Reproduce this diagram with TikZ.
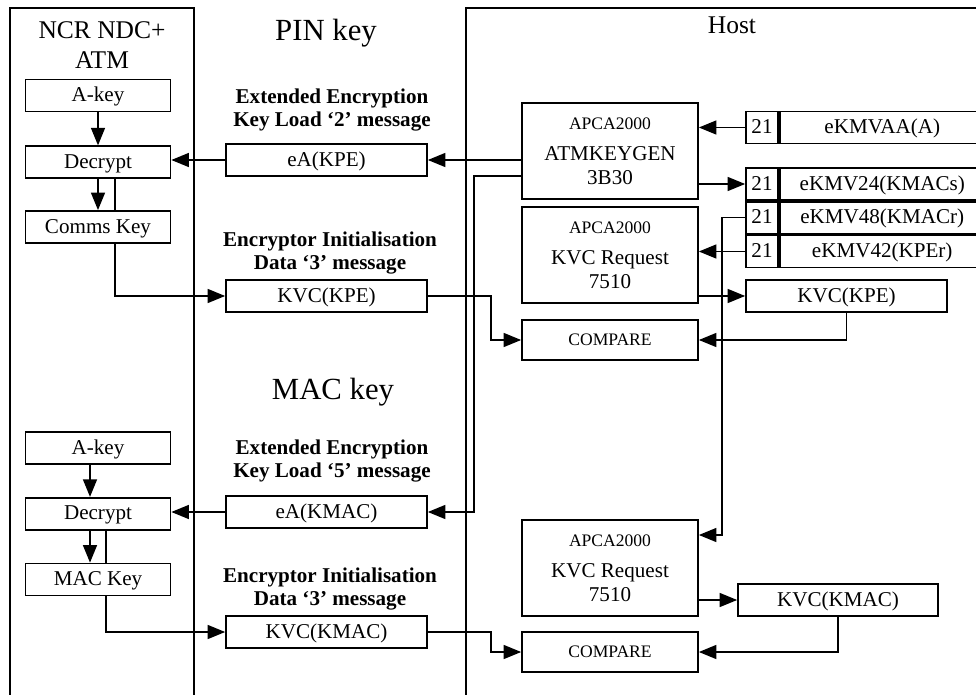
\documentclass[tikz,border=0pt]{standalone}
\usepackage{fontspec}
\setmainfont{Liberation Serif}
\usetikzlibrary{arrows.meta,positioning}

\begin{document}
\begin{tikzpicture}[x=0.02cm,y=-0.02cm,
  box/.style={draw,line width=1pt,minimum height=0.64cm,inner sep=0pt,
    font=\fontsize{12}{13.6}\selectfont},
  onebox/.style={box,text height=8.5pt,text depth=1.5pt},
  atmbox/.style={onebox,minimum width=2.9cm},
  msgbox/.style={onebox,minimum width=4.02cm},
  hsm/.style={box,minimum width=3.52cm,minimum height=1.93cm,align=center},
  cmpbox/.style={box,minimum width=3.52cm,minimum height=0.8cm,
    font=\fontsize{10}{12}\selectfont,text height=7pt,text depth=1pt},
  numcell/.style={onebox,minimum width=0.64cm},
  keycell/.style={onebox,minimum width=4.1cm},
  msg/.style={align=center,font=\fontsize{12}{13.6}\selectfont\bfseries},
  title/.style={align=center,font=\fontsize{14.5}{17}\selectfont},
  sect/.style={font=\fontsize{17.5}{20}\selectfont},
  arr/.style={-{Triangle[length=10pt,width=8pt]},line width=0.8pt},
  wire/.style={line width=0.8pt}]

\clip (0,0) rectangle (976,695);

% the two sides
\draw[line width=0.9pt] (10,8) rectangle (194,720);
\draw[line width=0.9pt] (466,8) rectangle (1000,720);

\node[title] (atm)  at (102,45) {NCR NDC+\\ATM};
\node[title] (host) at (732,25) {Host};
\node[sect]  (pin)  at (326,33) {PIN key};
\node[sect]  (mac)  at (333,392) {MAC key};

% ATM, PIN key
\node[atmbox] (akey1) at (98,95.5) {A-key};
\node[atmbox] (dec1) [below=0.66cm of akey1] {Decrypt};
\node[atmbox] (comms) [below=0.62cm of dec1] {Comms Key};

% ATM, MAC key
\node[atmbox] (akey2) at (98,448) {A-key};
\node[atmbox] (dec2) [below=0.64cm of akey2] {Decrypt};
\node[atmbox] (mackey) [below=0.64cm of dec2] {MAC Key};

% messages
\node[msg] (msg1) at (332,110) {Extended Encryption\\Key Load ‘2’ message};
\node[msgbox] (eakpe) at (326.5,160) {eA(KPE)};
\node[msg] (msg2) at (330,253) {Encryptor Initialisation\\Data ‘3’ message};
\node[msgbox] (kvc1) at (326.5,296) {KVC(KPE)};
\node[msg] (msg3) at (332,461) {Extended Encryption\\Key Load ‘5’ message};
\node[msgbox] (eakmac) at (326.5,512) {eA(KMAC)};
\node[msg] (msg4) at (330,589) {Encryptor Initialisation\\Data ‘3’ message};
\node[msgbox] (kvc2) at (326.5,632) {KVC(KMAC)};

% host functions
\node[hsm] (gen) at (610,151) {{\fontsize{10}{12}\selectfont APCA2000}\\[4pt]ATMKEYGEN\\3B30};
\node[hsm] (req1) at (610,255) {{\fontsize{10}{12}\selectfont APCA2000}\\[4pt]KVC Request\\7510};
\node[cmpbox] (cmp1) at (610,340) {COMPARE};
\node[hsm] (req2) at (610,568) {{\fontsize{10}{12}\selectfont APCA2000}\\[4pt]KVC Request\\7510};
\node[cmpbox] (cmp2) at (610,652) {COMPARE};

% key database
\node[numcell] (n21a) at (762,127.5) {21};
\node[keycell] (kmvaa) [right=0pt of n21a] {eKMVAA(A)};
\node[numcell] (n21b) at (762,184) {21};
\node[keycell] (kmv24) [right=0pt of n21b] {eKMV24(KMACs)};
\node[numcell] (n21c) [below=0pt of n21b] {21};
\node[keycell] (kmv48) [right=0pt of n21c] {eKMV48(KMACr)};
\node[numcell] (n21d) [below=0pt of n21c] {21};
\node[keycell] (kmv42) [right=0pt of n21d] {eKMV42(KPEr)};

\node[msgbox] (kvcr1) at (846.5,296) {KVC(KPE)};
\node[msgbox,minimum width=4cm] (kvcr2) at (838,600) {KVC(KMAC)};

% PIN key flow
\draw[arr] (akey1) -- (dec1);
\draw[arr] (dec1) -- (comms);
\draw[wire] ([xshift=0.34cm]dec1.south) -- ([xshift=0.34cm]comms.north);
\draw[arr] ([xshift=0.34cm]comms.south) |- (kvc1.west);
\draw[arr] (eakpe.west) -- (eakpe.west -| dec1.east);
\draw[arr] (gen.west |- eakpe.east) -- (eakpe.east);
\draw[arr] ([yshift=-0.5cm]gen.west) -- ++(-0.94cm,0) |- (eakmac.east);
\draw[arr] (kvc1.east) -- ++(1.26cm,0) |- (cmp1.west);
\draw[arr] (n21a.west) -- (n21a.west -| gen.east);
\draw[arr] (gen.east |- n21b.west) -- (n21b.west);
\draw[arr] (n21c.west) -- ++(-0.46cm,0) |- ([yshift=0.66cm]req2.east);
\draw[arr] (n21d.west) -- (n21d.west -| req1.east);
\draw[arr] (req1.east |- kvcr1.west) -- (kvcr1.west);
\draw[arr] (kvcr1.south) |- (cmp1.east);

% MAC key flow
\draw[arr] ([xshift=-0.16cm]akey2.south) -- ([xshift=-0.16cm]dec2.north);
\draw[arr] ([xshift=-0.16cm]dec2.south) -- ([xshift=-0.16cm]mackey.north);
\draw[wire] ([xshift=0.16cm]dec2.south) -- ([xshift=0.16cm]mackey.north);
\draw[arr] ([xshift=0.16cm]mackey.south) |- (kvc2.west);
\draw[arr] (eakmac.west) -- (eakmac.west -| dec2.east);
\draw[arr] (kvc2.east) -- ++(1.26cm,0) |- (cmp2.west);
\draw[arr] (req2.east |- kvcr2.west) -- (kvcr2.west);
\draw[arr] (kvcr2.south) |- (cmp2.east);
\end{tikzpicture}
\end{document}
